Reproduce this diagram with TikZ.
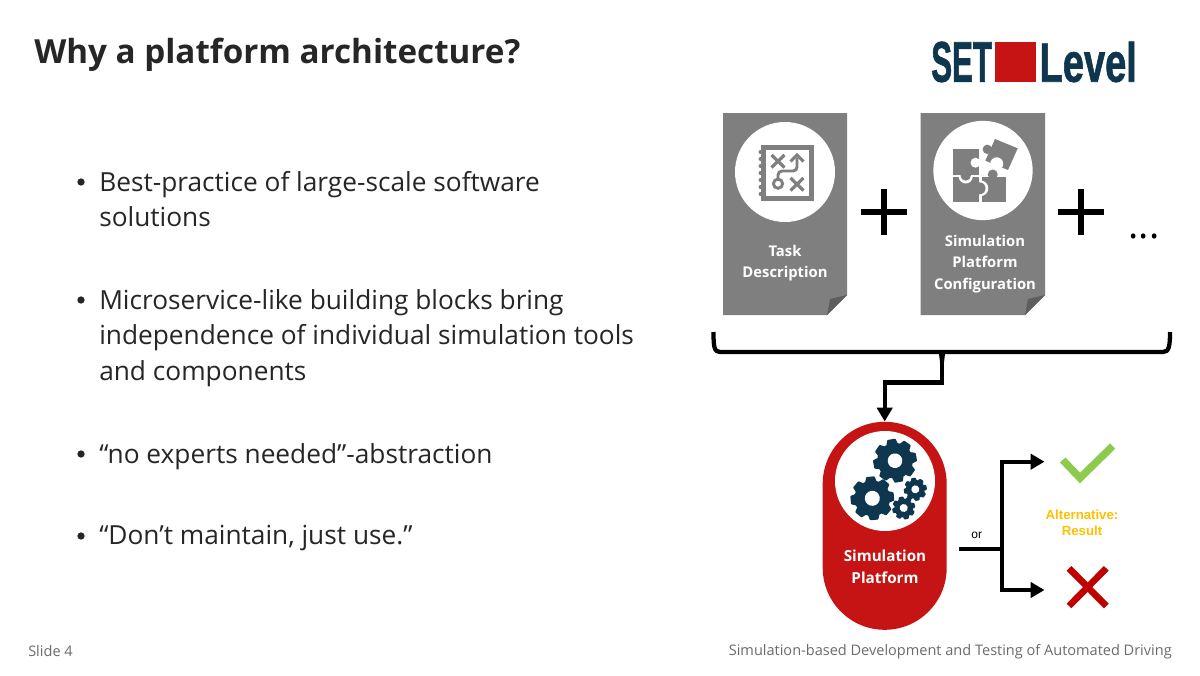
\documentclass[tikz,border=0pt]{standalone}
\usepackage{fontspec}
\setmainfont{Open Sans}
\newfontfamily\arialfont{Liberation Sans}
\newfontfamily\logofont[BoldFeatures={FakeBold=1.5}]{Liberation Sans}
\usetikzlibrary{arrows.meta}
\definecolor{ink}{HTML}{262626}
\definecolor{foot}{HTML}{6B6B6B}
\definecolor{pagegray}{HTML}{7F7F7F}
\definecolor{folddark}{HTML}{5E5E5E}
\definecolor{navy}{HTML}{0F364F}
\definecolor{brick}{HTML}{C61414}
\definecolor{okgreen}{HTML}{8CCB4E}
\definecolor{nored}{HTML}{C00000}
\definecolor{amber}{HTML}{FFC000}
\newcommand{\pxf}[2]{\fontsize{#1}{#2}\selectfont}
\newcommand{\mygear}[6]{% x y outer hole rot color
 \begin{scope}[shift={(#1,#2)},rotate=#5]
  \fill[#6] (0,0) circle[radius=#3*0.82];
  \foreach \a in {0,45,...,315}{
   \fill[#6,rotate=\a,rounded corners=0.5pt] (#3*0.75,-#3*0.27) -- (#3,-#3*0.19) -- (#3,#3*0.19) -- (#3*0.75,#3*0.27) -- cycle;}
  \fill[white] (0,0) circle[radius=#4];
 \end{scope}}
\tikzset{
 x=0.75pt,y=-0.75pt,
 bodytext/.style={anchor=north west,align=left,inner sep=0pt,text=ink,font=\pxf{19.7}{26.6}},
 bulletdot/.style={circle,fill=ink,inner sep=0pt,minimum size=5.5pt},
 footer/.style={inner sep=0pt,text=foot,font=\pxf{10.9}{13}},
 pagebox/.style={fill=pagegray},
 disc/.style={circle,fill=white,inner sep=0pt},
 cardtext/.style={align=center,inner sep=0pt,text=white,font=\bfseries\pxf{11.1}{15.9}},
 plus/.style={line width=5.2pt},
 flow/.style={line width=3.2pt,draw=black},
 tip/.style={-{Triangle[length=10.5pt,width=11.5pt]}},
 pill/.style={fill=brick,rounded corners=46.5pt,inner sep=0pt,minimum width=93pt,minimum height=156pt},
 logotext/.style={inner sep=0pt,anchor=south west,text=navy},
}
\begin{document}
\begin{tikzpicture}
\useasboundingbox (0,0) rectangle (1200,675);
\fill[white] (0,0) rectangle (1200,675);
% title
\node[anchor=base west,inner sep=0pt,text=ink,font=\bfseries\pxf{24.9}{30}] (title) at (34,63) {Why a platform architecture?};
% bullets
\node[bulletdot] (b1) at (81,182) {};
\node[bodytext] (t1) at (99,171) {Best-practice of large-scale software\\solutions};
\node[bulletdot] (b2) at (81,300) {};
\node[bodytext] (t2) at (99,289) {Microservice-like building blocks bring\\independence of individual simulation tools\\and components};
\node[bulletdot] (b3) at (81,454) {};
\node[bodytext] (t3) at (99,443) {“no experts needed”-abstraction};
\node[bulletdot] (b4) at (81,536) {};
\node[bodytext] (t4) at (99,525) {“Don’t maintain, just use.”};
% footer
\node[footer,anchor=west] (slide) at (28,651) {Slide 4};
\node[footer,anchor=east] (ftitle) at (1172,651.5) {Simulation-based Development and Testing of Automated Driving};
% logo
\node[logotext] (set) at (931,82.5) {\resizebox{45.5pt}{30pt}{\logofont\bfseries SET}};
\fill[brick] (995,41.7) rectangle (1036,82.3);
\node[logotext] (level) at (1039.3,82.5) {\resizebox{73pt}{30pt}{\logofont\bfseries Level}};
% card 1
\fill[pagebox] (723,113) -- (847,113) -- (847,295) -- (827,315) -- (723,315) -- cycle;
\fill[folddark] (847,295) -- (827,315) -- (830,299) -- cycle;
\node[disc,minimum size=75pt] (c1) at (785,172) {};
\node[cardtext] (task) at (785,263) {Task\\Description};
% notebook icon
\begin{scope}
 \draw[pagegray,line width=3.4pt] (763.5,147.5) rectangle (811.5,198.5);
 \foreach \y in {152,159,166,173,180,187,194}{\fill[pagegray] (760.5,\y) circle[radius=2];}
 \draw[pagegray,line width=2.4pt] (771.5,155) -- (784.5,167.5) (784.5,155) -- (771.5,167.5);
 \draw[pagegray,line width=2.4pt] (790.5,178) -- (803.5,190.5) (803.5,178) -- (790.5,190.5);
 \draw[pagegray,line width=2.2pt] (778,183.7) circle[radius=4.6];
 \draw[pagegray,line width=2.2pt,rounded corners=3pt] (778,179) -- (778,171) -- (797,171) -- (797,158);
 \draw[pagegray,line width=2.2pt] (790.5,161.5) -- (797,155) -- (803.5,161.5);
\end{scope}
% card 2
\fill[pagebox] (920.5,113) -- (1045,113) -- (1045,295) -- (1025,315) -- (920.5,315) -- cycle;
\fill[folddark] (1045,295) -- (1025,315) -- (1028,299) -- cycle;
\node[disc,minimum size=74.5pt] (c2) at (983,170.5) {};
\node[cardtext] (config) at (985,264) {Simulation\\Platform\\Configuration};
% puzzle icon
\begin{scope}
 \fill[pagegray] (953.3,149.3) rectangle (979.3,175.3);
 \fill[white] (975.5,162.7) circle[radius=5];
 \fill[pagegray] (953.3,177.3) rectangle (979.3,201.7);
 \fill[pagegray] (981.7,177.3) rectangle (1005.7,201.7);
 \fill[pagegray] (995,139) -- (1017.7,148.3) -- (1008,170) -- (985.3,160.7) -- cycle;
 \fill[pagegray] (987.3,149.3) circle[radius=4.7];
 \fill[white] (996.7,163.8) circle[radius=6.5];
 \fill[white] (983,168) rectangle (992,176.5);
 \fill[white] (1000,170) -- (1008,170) -- (1008,176.5) -- (1000,176.5) -- cycle;
 \fill[pagegray] (992.7,174.5) circle[radius=5];
 \begin{scope}
  \clip (955,175.3) rectangle (977,190);
  \fill[white] (965.7,176.5) circle[radius=7];
 \end{scope}
 \fill[pagegray] (965.7,175.5) circle[radius=5.2];
 \begin{scope}
  \clip (979.3,178) rectangle (995,200);
  \fill[white] (980.5,188.3) circle[radius=7.8];
 \end{scope}
 \fill[pagegray] (979.5,188.3) circle[radius=6];
\end{scope}
% plus signs
\node[inner sep=0pt] (p1) at (884,212) {};
\draw[plus] (861,212) -- (907,212) (884,189) -- (884,235);
\node[inner sep=0pt] (p2) at (1081,212) {};
\draw[plus] (1058,212) -- (1104,212) (1081,189) -- (1081,235);
\node[inner sep=0pt,font=\pxf{29}{30}] (dots) at (1144,236) {...};
% platform
\node[pill] (platform) at (884.7,525.8) {};
\node[disc,minimum size=75pt] (c3) at (885,481) {};
\mygear{895}{460.7}{21.7}{7.3}{10}{navy}
\mygear{872.3}{498.3}{21.7}{7.5}{5}{navy}
\mygear{915.3}{489.3}{11.5}{4}{10}{navy}
\mygear{903.7}{508}{11.5}{4}{15}{navy}
\node[cardtext,font=\bfseries\pxf{11.4}{16.4}] (ptext) at (885,566.5) {Simulation\\Platform};
% brace
\coordinate (bl) at (713.5,332);
\coordinate (br) at (1170,332);
\coordinate (bm) at (942,352);
\draw[flow] (bl) .. controls (713.5,346) and (714,352) .. (720,352) -- (bm) -- (1163,352) .. controls (1169,352) and (1170,346) .. (br);
\fill (938.5,350) -- (945.5,350) -- (944,362) -- (940,362) -- cycle;
\draw[flow,tip] (bm) -- (942,382.5) -| (platform.north);
% outcome
\coordinate (orstart) at (959,548.7);
\coordinate (orjoin) at (1001.7,548.7);
\coordinate (okend) at (1044.5,461.7);
\coordinate (noend) at (1044.5,590);
\draw[flow] (orstart) -- (orjoin);
\draw[flow,tip] (orjoin) |- (okend);
\draw[flow,tip] (orjoin) |- (noend);
\node[inner sep=0pt,font=\arialfont\pxf{9}{11}] (or) at (976.7,535) {or};
\draw[okgreen,line width=5.6pt] (1062.7,460) -- (1080,478) -- (1112.7,446);
\draw[nored,line width=5pt] (1069,568.3) -- (1106.3,606) (1106.3,568.3) -- (1069,606);
\node[align=center,inner sep=0pt,text=amber,font=\arialfont\bfseries\pxf{9.9}{12}] (alt) at (1082,523) {Alternative:\\Result};
\end{tikzpicture}
\end{document}
